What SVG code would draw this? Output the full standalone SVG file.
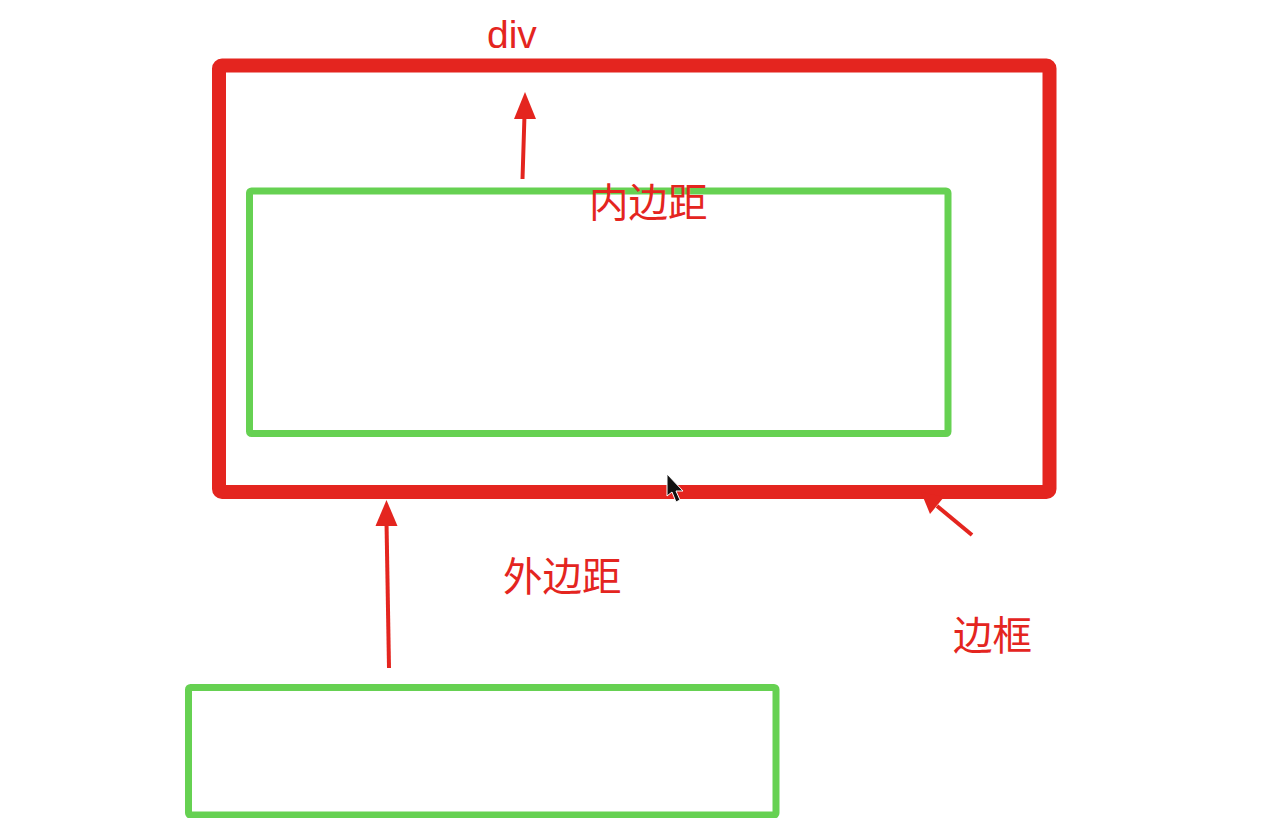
<svg xmlns="http://www.w3.org/2000/svg" width="1268" height="818" viewBox="0 0 1268 818">
<style>
.red{fill:none;stroke:#e4251f;stroke-width:14;stroke-linejoin:round}
.green{fill:none;stroke:#66d152;stroke-width:7;stroke-linejoin:round}
.conn{stroke:#e4251f;stroke-width:4;fill:none}
.head{fill:#e4251f}
.lbl{fill:#e4251f;font-family:"Noto Sans CJK SC","Liberation Sans",sans-serif;font-size:39.5px}
.lat{fill:#e4251f;font-family:"Liberation Sans",sans-serif;font-size:39px}
</style>
<rect width="1268" height="818" fill="#ffffff"/>
<g id="div-box">
<rect class="red" x="219" y="65.5" width="830.5" height="426.5" rx="3"/>
<text class="lat" x="487" y="48">div</text>
</g>
<g id="content-box">
<rect class="green" x="249.5" y="191" width="698.5" height="242.5" rx="2"/>
</g>
<g id="sibling-box">
<rect class="green" x="188.5" y="687.5" width="587.5" height="127.5" rx="2"/>
</g>
<g id="labels">
<text class="lbl" x="589" y="217">内边距</text>
<text class="lbl" x="503" y="591">外边距</text>
<text class="lbl" x="953" y="650">边框</text>
</g>
<g id="connectors">
<line class="conn" x1="522.5" y1="179" x2="524.5" y2="115"/>
<polygon class="head" points="525,92 514,119 536,119"/>
<line class="conn" x1="389" y1="668" x2="386.5" y2="522"/>
<polygon class="head" points="386.5,500 375.5,526 397.5,526"/>
<line class="conn" x1="972" y1="535" x2="937" y2="506"/>
<polygon class="head" points="921,492 930,514 944,497"/>
</g>
<g id="cursor">
<polygon points="667,474 667,496 672,492 676,502 680,500 676,491 683,491" fill="#111" stroke="#fff" stroke-width="1"/>
</g>
</svg>
